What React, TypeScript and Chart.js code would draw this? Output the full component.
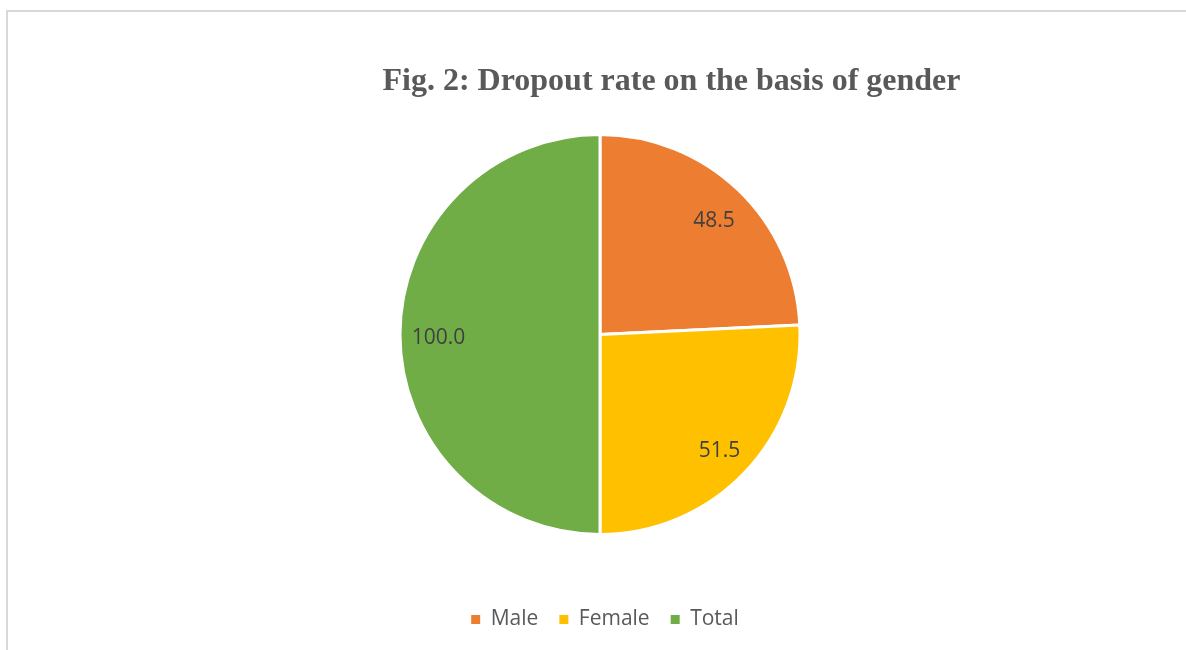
import React, { useEffect, useRef } from "react";
import { Chart, registerables } from "chart.js";

Chart.register(...registerables);

const categories = ["Male", "Female", "Total"];
const dropoutValues = [48.5, 51.5, 100.0];
const sliceColors = ["#ED7D31", "#FFC000", "#70AD47"];
const chartTitle = "Fig. 2: Dropout rate on the basis of gender";

const titlePlugin = {
  id: "customTitle",
  afterDraw(chart: any) {
    const ctx = chart.ctx;
    ctx.save();
    ctx.font = "bold 32px 'Liberation Serif', 'Times New Roman', serif";
    ctx.fillStyle = "#595959";
    ctx.textAlign = "center";
    ctx.textBaseline = "alphabetic";
    ctx.fillText(chartTitle, 671.5, 90);
    ctx.restore();
  },
};

const legendShiftPlugin = {
  id: "legendShift",
  afterLayout(chart: any) {
    const lg = chart.legend;
    if (lg) {
      lg.left += 5;
      lg.right += 5;
    }
  },
};

const dataLabelPlugin = {
  id: "sliceLabels",
  afterDatasetsDraw(chart: any) {
    const ctx = chart.ctx;
    const meta = chart.getDatasetMeta(0);
    const values = chart.data.datasets[0].data;
    ctx.save();
    ctx.font = "21px 'Open Sans', sans-serif";
    ctx.fillStyle = "#404040";
    ctx.textAlign = "center";
    ctx.textBaseline = "middle";
    meta.data.forEach((arc: any, i: number) => {
      const { x, y, startAngle, endAngle, outerRadius } = arc.getProps(
        ["x", "y", "startAngle", "endAngle", "outerRadius"],
        true
      );
      const mid = (startAngle + endAngle) / 2;
      const r = outerRadius * 0.815;
      ctx.fillText(
        Number(values[i]).toFixed(1),
        x + Math.cos(mid) * r + 1.5,
        y + Math.sin(mid) * r + 4
      );
    });
    ctx.restore();
  },
};

export default function App() {
  const canvasRef = useRef<HTMLCanvasElement | null>(null);

  useEffect(() => {
    if (!canvasRef.current) return;
    const chart = new Chart(canvasRef.current, {
      type: "pie",
      data: {
        labels: categories,
        datasets: [
          {
            data: dropoutValues,
            backgroundColor: sliceColors,
            borderColor: "#FFFFFF",
            borderWidth: 3,
          },
        ],
      },
      options: {
        responsive: false,
        maintainAspectRatio: false,
        animation: false,
        radius: 200,
        layout: {
          padding: { top: 81, bottom: 10, left: 14, right: 0 },
        },
        plugins: {
          title: { display: false },
          tooltip: { enabled: false },
          legend: {
            display: true,
            position: "bottom",
            labels: {
              boxWidth: 9,
              boxHeight: 9,
              padding: 21,
              color: "#595959",
              font: { family: "'Open Sans', sans-serif", size: 21 },
              generateLabels: (chart: any) =>
                chart.data.labels.map((label: string, i: number) => ({
                  text: label,
                  fillStyle: sliceColors[i],
                  strokeStyle: sliceColors[i],
                  fontColor: "#595959",
                  lineWidth: 0,
                  hidden: false,
                  index: i,
                })),
            },
          },
        },
      } as any,
      plugins: [titlePlugin, legendShiftPlugin, dataLabelPlugin],
    });
    return () => chart.destroy();
  }, []);

  return (
    <div
      style={{
        position: "fixed",
        left: 0,
        top: 0,
        width: 1186,
        height: 650,
        overflow: "hidden",
        background: "#FFFFFF",
      }}
    >
      <div
        style={{
          position: "absolute",
          left: 6,
          top: 10,
          width: 1300,
          height: 700,
          borderTop: "2px solid #D9D9D9",
          borderLeft: "2px solid #D9D9D9",
        }}
      />
      <canvas
        ref={canvasRef}
        width={1186}
        height={650}
        style={{ position: "absolute", left: 0, top: 0, width: 1186, height: 650 }}
      />
    </div>
  );
}
